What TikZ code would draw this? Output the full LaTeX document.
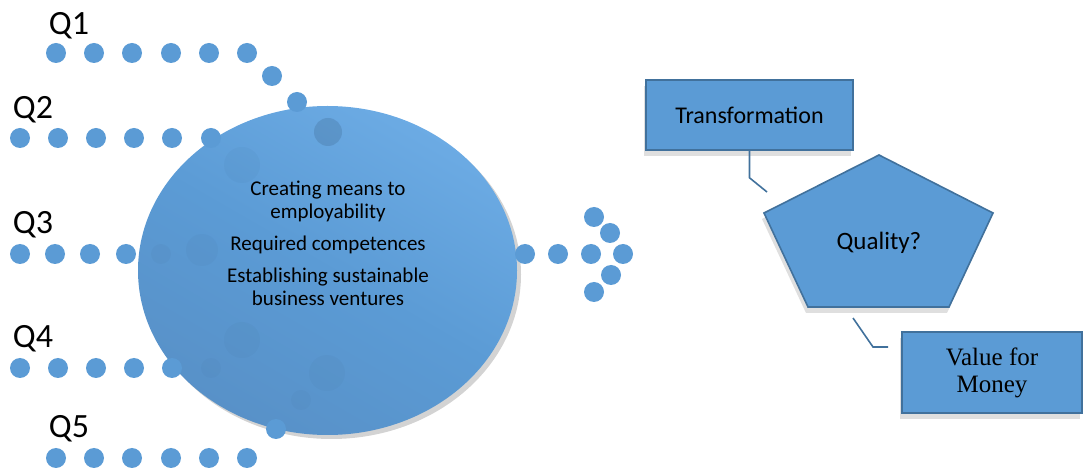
\documentclass[tikz,border=0pt]{standalone}
\usepackage{fontspec}
\setmainfont{Carlito}
\newfontfamily\serifbox{Liberation Serif}
\usetikzlibrary{shapes.geometric,shadows,positioning}

\definecolor{dotblue}{HTML}{5B9BD5}
\definecolor{rimblue}{HTML}{41719C}
\definecolor{glowblue}{HTML}{6CABE4}
\definecolor{deepblue}{HTML}{5891C8}

\begin{document}
\begin{tikzpicture}[
  x=0.5pt,y=-0.5pt,
  dot/.style={fill=dotblue},
  ghost/.style={fill=dotblue!70!black,opacity=0.07},
  qlabel/.style={font=\fontsize{17}{20}\selectfont,anchor=base},
  core/.style={ellipse,minimum width=189.5pt,minimum height=164.5pt,inner sep=0pt,
    top color=glowblue,bottom color=deepblue,middle color=dotblue,shading angle=-30,
    drop shadow={shadow xshift=2pt,shadow yshift=-2pt,opacity=0.35}},
  qbox/.style={draw=rimblue,thick,fill=dotblue,inner sep=0pt,align=center,
    drop shadow={shadow xshift=-1pt,shadow yshift=-3pt,opacity=0.25}},
  link/.style={draw=rimblue,thick}
]
\useasboundingbox (0,0) rectangle (1083,470);

% ---- question labels ----
\node[qlabel] (q1) at (69,35) {Q1};
\node[qlabel] (q2) at (33,119) {Q2};
\node[qlabel] (q3) at (33,234) {Q3};
\node[qlabel] (q4) at (33,348) {Q4};
\node[qlabel] (q5) at (69,438) {Q5};

% ---- central bubble ----
\node[core] (core) at (327.5,270.5) {};
\node[font=\fontsize{10.5}{11.5}\selectfont,align=center] (aims) at (328,243)
  {Creating means to\\employability\\[4.5pt]Required competences\\[4.5pt]Establishing sustainable\\business ventures};

% ---- dotted trails into the bubble ----
\foreach \x in {56,94,132,171,209,247} \fill[dot] (\x,53) circle (5pt);
\fill[dot] (272,76) circle (5pt);
\fill[dot] (297,102) circle (5pt);
\foreach \x in {20,58,96,134,172,211} \fill[dot] (\x,138) circle (5pt);
\foreach \x in {20,55,90,126} \fill[dot] (\x,254) circle (5pt);
\foreach \x in {20,58,96,134,172} \fill[dot] (\x,368) circle (5pt);
\foreach \x in {56,94,132,171,209,247} \fill[dot] (\x,458) circle (5pt);
\fill[dot] (276,429) circle (5pt);

% faint dots seen through the bubble
\fill[ghost,opacity=0.3] (328,132) circle (7pt);
\fill[ghost] (242,165) circle (9pt);
\fill[ghost] (161,254) circle (5pt);
\fill[ghost] (202,250) circle (8pt);
\fill[ghost] (211,368) circle (5pt);
\fill[ghost] (242,340) circle (9pt);
\fill[ghost] (327,373) circle (9pt);
\fill[ghost] (301,400) circle (5pt);

% ---- dotted arrow out ----
\foreach \x in {525,558,591,623} \fill[dot] (\x,254) circle (5pt);
\fill[dot] (594,217) circle (5pt);
\fill[dot] (610,233) circle (5pt);
\fill[dot] (611,275) circle (5pt);
\fill[dot] (594,292) circle (5pt);

% ---- quality pentagon ----
\coordinate (p1) at (879,155);
\coordinate (p2) at (993,213);
\coordinate (p3) at (949,307);
\coordinate (p4) at (808,307);
\coordinate (p5) at (764,213);
\draw[qbox] (p1) -- (p2) -- (p3) -- (p4) -- (p5) -- cycle;
\node[font=\fontsize{12.5}{15}\selectfont,anchor=base] (quality) at (879,250) {Quality?};

% ---- definitions ----
\node[qbox,minimum width=103.5pt,minimum height=35pt,font=\fontsize{12}{14}\selectfont]
  (trans) at (749.5,115) {Transformation};
\node[qbox,minimum width=90pt,minimum height=40.5pt,font=\serifbox\fontsize{12.5}{13.5}\selectfont]
  (value) at (992,372.5) {Value for\\Money};

% ---- callout links ----
\coordinate (tend) at (767,192);
\coordinate (vstart) at (853,318);
\coordinate (vknee) at (873,347);
\coordinate (vend) at (888,347);
\draw[link] (trans.south) -- ++(0,27) -- (tend);
\draw[link] (vstart) -- (vknee) -- (vend);

\end{tikzpicture}
\end{document}
